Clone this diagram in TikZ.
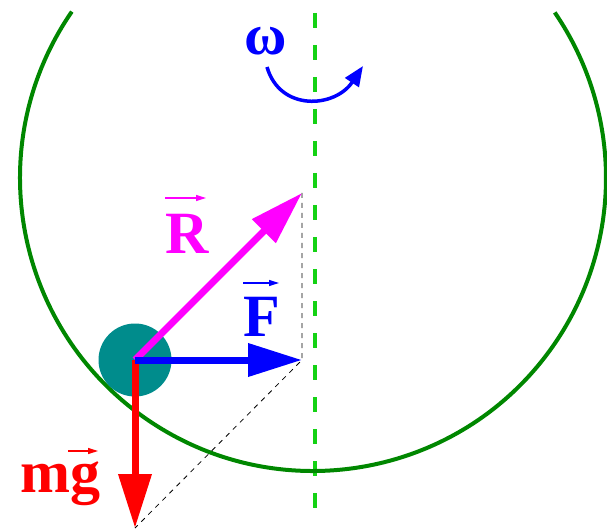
\documentclass[tikz,border=0pt]{standalone}
\usepackage{fontspec}
\setmainfont{Liberation Serif}
\usetikzlibrary{arrows.meta,calc}
\definecolor{arcgreen}{RGB}{0,135,0}
\definecolor{axisgreen}{RGB}{20,210,20}
\definecolor{ballteal}{RGB}{0,140,140}
\definecolor{rmag}{RGB}{255,0,255}
\definecolor{fblue}{RGB}{0,0,255}
\definecolor{gred}{RGB}{255,0,0}
\begin{document}
\begin{tikzpicture}[x=1pt,y=-1pt,
  force/.style={line width=7pt,-{Triangle[length=54pt,width=32pt]}},
  overarr/.style={line width=1.3pt,-{Triangle[length=10pt,width=6pt]}},
  lab/.style={anchor=base west,inner sep=0pt,font=\fontsize{60}{60}\selectfont\bfseries},
  helper/.style={black,line width=0.8pt,dash pattern=on 5pt off 5pt}]
\useasboundingbox (0,0) rectangle (607,529);
% rotation axis
\coordinate (axtop) at (315,13);
\coordinate (axbot) at (315,508);
\draw[axisgreen,line width=4pt,dash pattern=on 15pt off 17pt] (axtop) -- (axbot);
% bowl
\coordinate (bc) at (313,178);
\draw[arcgreen,line width=4pt] ($(bc)+(214.6:293)$) arc[start angle=214.6,end angle=-34.4,radius=293];
% ball
\node[circle,fill=ballteal,minimum size=73pt,inner sep=0pt] (ball) at (135,360) {};
\coordinate (ftip) at (302,360);
\coordinate (rtip) at (302,193);
\coordinate (gtip) at (135,528);
% construction lines
\draw[helper] (rtip) -- (ftip) -- (gtip);
% forces
\draw[force,gred] (ball.center) -- (gtip);
\draw[force,rmag] (ball.center) -- (rtip);
\draw[force,fblue] (ball.center) -- (ftip);
% labels
\node[lab,rmag] (Rlab) at (165,253) {R};
\draw[overarr,rmag] ($(Rlab.base west)+(0,-55)$) -- ($(Rlab.base west)+(41,-55)$);
\node[lab,fblue] (Flab) at (243,336) {F};
\draw[overarr,fblue] ($(Flab.base west)+(0,-53)$) -- ($(Flab.base west)+(36,-53)$);
\node[lab,gred] (glab) at (20,492) {mg};
\draw[overarr,gred] ($(glab.base west)+(48,-41)$) -- ($(glab.base west)+(78,-41)$);
% omega
\node[lab,fblue,font=\fontsize{58}{58}\selectfont\bfseries] (om) at (244,55) {ω};
\coordinate (rs) at (267,67);
\coordinate (re) at (363,66);
\draw[fblue,line width=3.5pt,-{Triangle[length=20pt,width=16pt]}] (rs) .. controls (280,112) and (335,108) .. (re);
\end{tikzpicture}
\end{document}
